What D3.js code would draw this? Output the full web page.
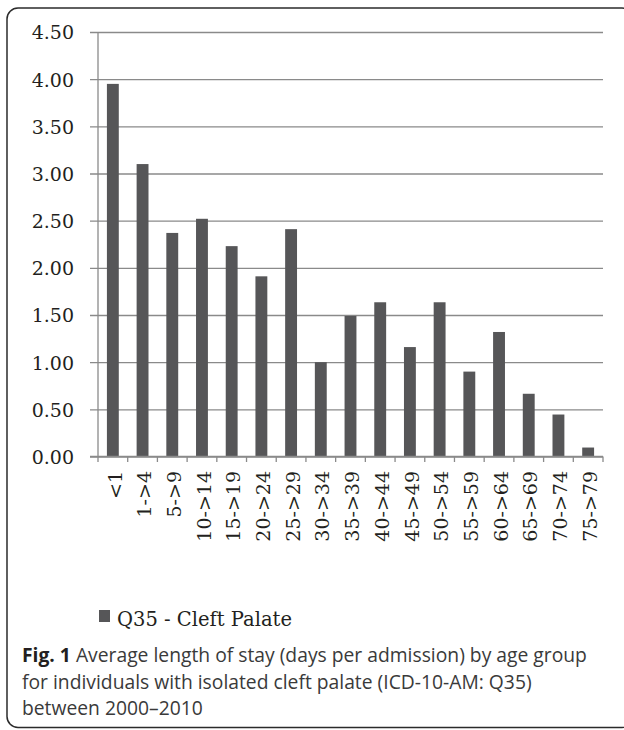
<!DOCTYPE html>
<html>
<head>
<meta charset="utf-8">
<script src="https://cdn.jsdelivr.net/npm/d3@7"></script>
<style>
html,body{margin:0;padding:0;background:#fff;}
svg{display:block;}
</style>
</head>
<body>
<svg id="chart" width="624" height="730"></svg>
<script>
const categories = ["<1","1->4","5->9","10->14","15->19","20->24","25->29","30->34","35->39","40->44","45->49","50->54","55->59","60->64","65->69","70->74","75->79"];
const values = [3.95,3.10,2.37,2.52,2.23,1.91,2.41,1.00,1.49,1.635,1.16,1.635,0.90,1.32,0.665,0.445,0.095];
const yTicks = [0,0.5,1,1.5,2,2.5,3,3.5,4,4.5];
const seriesName = "Q35 - Cleft Palate";
const captionBold = "Fig. 1";
const captionLines = [" Average length of stay (days per admission) by age group",
  "for individuals with isolated cleft palate (ICD-10-AM: Q35)",
  "between 2000\u20132010"];

(function(){
const svg = d3.select("#chart");
const pLeft = 98, pRight = 603, pTop = 32, pBottom = 456.5;
const serif = "'DejaVu Serif', serif";
const txt = "#231f20";
const grid = "#8a8a8a";

// frame
svg.append("rect").attr("x",7).attr("y",8).attr("width",626).attr("height",719.5)
  .attr("rx",11).attr("fill","none").attr("stroke","#2b2b2b").attr("stroke-width",1.5);

const y = d3.scaleLinear().domain([0,4.5]).range([pBottom, pTop]);
const x = d3.scaleBand().domain(categories).range([pLeft, pRight]).padding(0);

// y axis with gridlines
const yAxis = d3.axisLeft(y).tickValues(yTicks).tickFormat(d3.format(".2f"))
  .tickSize(-(pRight-pLeft)).tickPadding(0);
const gy = svg.append("g").attr("transform",`translate(${pLeft},0)`).call(yAxis);
gy.select(".domain").remove();
gy.selectAll(".tick line").attr("x1",-8).attr("stroke",grid).attr("stroke-width",1.3);
gy.selectAll(".tick text").attr("x",-24).attr("dy","0.36em")
  .attr("font-family",serif).attr("font-size",19).attr("fill",txt);
svg.append("line").attr("x1",pLeft).attr("x2",pLeft).attr("y1",pTop).attr("y2",pBottom)
  .attr("stroke",grid).attr("stroke-width",1.3);

// bars
const bw = x.bandwidth()*0.4;
svg.append("g").selectAll("rect").data(values).join("rect")
  .attr("x",(d,i)=>x(categories[i]) + (x.bandwidth()-bw)/2)
  .attr("width",bw)
  .attr("y",d=>y(d))
  .attr("height",d=>y(0)-y(d))
  .attr("fill","#565658");

// x axis
svg.append("line").attr("x1",pLeft-8).attr("x2",pRight).attr("y1",pBottom).attr("y2",pBottom)
  .attr("stroke",grid).attr("stroke-width",1.3);
const bounds = categories.map(c=>x(c)).concat([pRight]);
svg.append("g").selectAll("line").data(bounds).join("line")
  .attr("x1",d=>d).attr("x2",d=>d).attr("y1",pBottom).attr("y2",pBottom+5.5)
  .attr("stroke",grid).attr("stroke-width",1.3);
svg.append("g").selectAll("text").data(categories).join("text")
  .attr("transform",d=>`translate(${x(d)+x.bandwidth()/2+2},471) rotate(-90)`)
  .attr("text-anchor","end").attr("dy","0.35em")
  .attr("font-family",serif).attr("font-size",19).attr("fill",txt)
  .text(d=>d);

// legend
svg.append("rect").attr("x",99).attr("y",610).attr("width",11).attr("height",12).attr("fill","#565658");
svg.append("text").attr("x",117).attr("y",626).attr("font-family",serif).attr("font-size",19.5)
  .attr("textLength",175).attr("lengthAdjust","spacingAndGlyphs")
  .attr("fill",txt).text(seriesName);

// caption
const cap = svg.append("g").attr("font-family","'Open Sans', sans-serif").attr("font-size",19.3).attr("fill","#3a3a3a");
const l1 = cap.append("text").attr("x",22).attr("y",662);
l1.append("tspan").attr("font-weight",700).attr("fill","#231f20").text(captionBold);
l1.append("tspan").text(captionLines[0]);
captionLines.slice(1).forEach((t,i)=>{
  cap.append("text").attr("x",22).attr("y",688.5+i*26.5).text(t);
});
})();
</script>
</body>
</html>
